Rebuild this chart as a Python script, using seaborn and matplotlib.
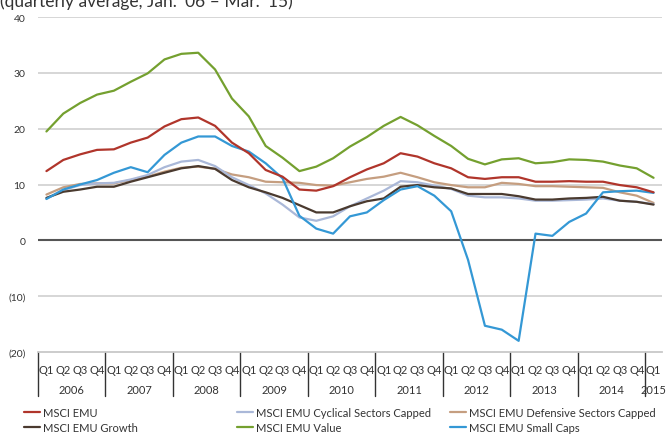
import numpy as np
import pandas as pd
import matplotlib
matplotlib.use('Agg')
import matplotlib.pyplot as plt
import matplotlib.transforms as mtransforms
import seaborn as sns

# Quarterly averages, Q1 2006 - Q1 2015
quarters = [f'Q{q}' for y in range(2006, 2015) for q in range(1, 5)] + ['Q1']
years = ['2006', '2007', '2008', '2009', '2010', '2011', '2012', '2013', '2014', '2015']

msci_emu = [12.4, 14.4, 15.4, 16.2, 16.3, 17.5, 18.4, 20.4, 21.7, 22.0, 20.5, 17.5, 15.6,
            12.6, 11.4, 9.1, 8.9, 9.7, 11.3, 12.7, 13.8, 15.6, 15.0, 13.8, 12.9, 11.3,
            11.0, 11.3, 11.3, 10.5, 10.5, 10.6, 10.5, 10.5, 9.9, 9.5, 8.6]
cyclical = [7.5, 9.0, 9.9, 10.2, 10.3, 10.9, 11.7, 13.1, 14.1, 14.4, 13.3, 11.3, 9.9,
            8.4, 6.4, 4.1, 3.5, 4.3, 6.1, 7.5, 8.9, 10.6, 10.4, 9.8, 9.2, 8.0,
            7.7, 7.7, 7.5, 7.1, 7.1, 7.2, 7.3, 7.5, 7.1, 6.9, 6.5]
defensive = [8.2, 9.5, 10.1, 10.2, 10.2, 10.8, 11.4, 12.3, 13.0, 13.2, 12.8, 11.8, 11.3,
             10.5, 10.4, 10.3, 9.9, 9.8, 10.4, 11.0, 11.4, 12.1, 11.3, 10.4, 9.9, 9.5,
             9.5, 10.3, 10.1, 9.7, 9.7, 9.6, 9.5, 9.4, 8.6, 8.0, 6.7]
growth = [7.6, 8.7, 9.1, 9.6, 9.6, 10.5, 11.3, 12.1, 12.9, 13.3, 12.8, 10.8, 9.5,
          8.6, 7.6, 6.3, 5.0, 5.0, 6.1, 7.0, 7.5, 9.6, 9.9, 9.5, 9.3, 8.3,
          8.3, 8.3, 7.9, 7.3, 7.3, 7.5, 7.6, 7.8, 7.1, 6.9, 6.4]
value = [19.5, 22.7, 24.6, 26.1, 26.8, 28.4, 29.9, 32.4, 33.4, 33.6, 30.6, 25.4, 22.2,
         16.9, 14.8, 12.4, 13.2, 14.7, 16.8, 18.5, 20.5, 22.1, 20.6, 18.7, 16.9, 14.6,
         13.6, 14.5, 14.7, 13.8, 14.0, 14.5, 14.4, 14.1, 13.4, 12.9, 11.2]
small_caps = [7.4, 9.1, 10.0, 10.8, 12.1, 13.1, 12.2, 15.3, 17.5, 18.6, 18.6, 16.9, 15.9,
              13.8, 11.1, 4.4, 2.1, 1.2, 4.3, 5.0, 7.2, 9.1, 9.7, 8.0, 5.2, -3.5,
              -15.3, -16.0, -18.0, 1.2, 0.8, 3.3, 4.8, 8.6, 8.8, 8.9, 8.5]

series = {
    'MSCI EMU': msci_emu,
    'MSCI EMU Cyclical Sectors Capped': cyclical,
    'MSCI EMU Defensive Sectors Capped': defensive,
    'MSCI EMU Growth': growth,
    'MSCI EMU Value': value,
    'MSCI EMU Small Caps': small_caps,
}
colors = {
    'MSCI EMU': '#B0352B',
    'MSCI EMU Cyclical Sectors Capped': '#AAB8D8',
    'MSCI EMU Defensive Sectors Capped': '#C59E80',
    'MSCI EMU Growth': '#4A3A2F',
    'MSCI EMU Value': '#74A02F',
    'MSCI EMU Small Caps': '#3498D5',
}

rows = []
for name, vals in series.items():
    for i, v in enumerate(vals):
        rows.append({'idx': i, 'value': v, 'series': name})
df = pd.DataFrame(rows)

sns.set_style('white')
plt.rcParams['font.family'] = ['Lato', 'DejaVu Sans']

fig = plt.figure(figsize=(6.68, 4.35), dpi=100)
ax = fig.add_axes([38 / 668, 82 / 435, 624 / 668, 335 / 435])

for y in [40, 30, 20, 10, -10]:
    ax.axhline(y, color='#D3D3D3', lw=1.3, zorder=0)
ax.axhline(0, color='#555555', lw=1.5, zorder=0)

draw_order = ['MSCI EMU Defensive Sectors Capped', 'MSCI EMU Cyclical Sectors Capped',
              'MSCI EMU Growth', 'MSCI EMU Value', 'MSCI EMU Small Caps', 'MSCI EMU']
sns.lineplot(data=df, x='idx', y='value', hue='series', hue_order=draw_order,
             palette=colors, linewidth=1.6, legend=False, ax=ax)

ax.set_xlim(-0.5, 36.5)
ax.set_ylim(-20, 40)
ax.set_yticks([40, 30, 20, 10, 0, -10, -20])
ax.set_yticklabels(['40', '30', '20', '10', '0', '(10)', '(20)'])
ax.set_xticks(range(len(quarters)))
ax.set_xticklabels(quarters)
ax.tick_params(axis='both', length=0, labelsize=8, colors='#333333')
ax.tick_params(axis='y', pad=9, labelsize=7.5)
ax.tick_params(axis='x', pad=9)
ax.set_xlabel('')
ax.set_ylabel('')
for s in ['top', 'right', 'left']:
    ax.spines[s].set_visible(False)
ax.spines['bottom'].set_color('#C8C8C8')
ax.spines['bottom'].set_linewidth(1.3)

# year groups under the quarter labels
trans = mtransforms.blended_transform_factory(ax.transData, ax.transAxes)
for k in range(10):
    x0 = -0.5 + 4 * k
    ax.plot([x0, x0], [0, -0.131], color='#333333', lw=1, transform=trans, clip_on=False)
    xc = x0 + 2 if k < 9 else 36
    ax.text(xc, -0.112, years[k], transform=trans, ha='center', va='center',
            fontsize=8, color='#333333')

fig.text(0.0, 1 - 7 / 435, "(quarterly average, Jan. \u201806 \u2013 Mar. \u201815)",
         ha='left', va='baseline', fontsize=12.5, color='#333333')

# legend: three columns of two rows
handles = {}
for name in series:
    handles[name] = plt.Line2D([], [], color=colors[name], lw=1.6)
cols = [['MSCI EMU', 'MSCI EMU Growth'],
        ['MSCI EMU Cyclical Sectors Capped', 'MSCI EMU Value'],
        ['MSCI EMU Defensive Sectors Capped', 'MSCI EMU Small Caps']]
for xpx, names in zip([24, 237, 450], cols):
    fig.legend([handles[n] for n in names], names, loc='center left',
               bbox_to_anchor=(xpx / 668, 14 / 435), frameon=False, fontsize=8,
               borderpad=0, borderaxespad=0, handlelength=1.45, handletextpad=0.3,
               labelspacing=0.35, labelcolor='#333333')

fig.savefig('out.png', dpi=100)
